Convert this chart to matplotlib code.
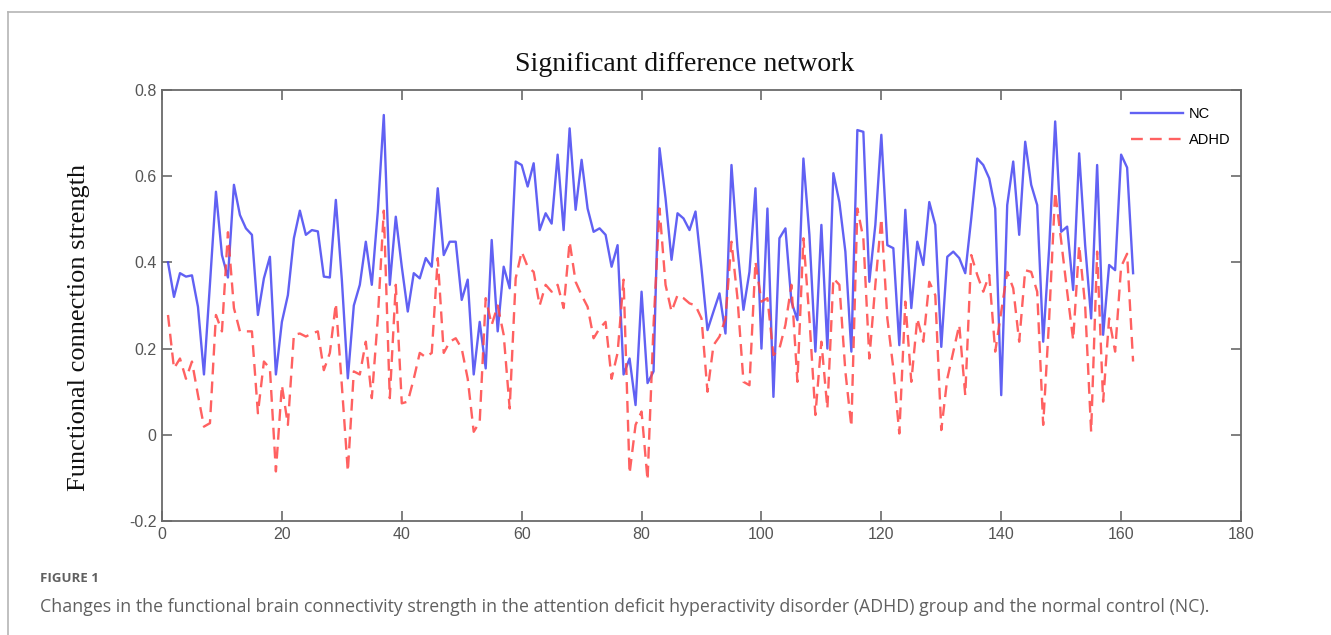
"""
Significant difference network: NC vs ADHD functional connection strength
"""

import numpy as np
import matplotlib.pyplot as plt
from matplotlib.lines import Line2D

plt.rcParams.update({"font.family": "sans-serif",
                     "font.sans-serif": ["Liberation Sans", "DejaVu Sans"]})

# connection index 1..162
nc = [
    0.40, 0.32, 0.375, 0.367, 0.37, 0.297, 0.14, 0.35, 0.564, 0.417,
    0.365, 0.58, 0.51, 0.479, 0.464, 0.278, 0.363, 0.413, 0.14, 0.262,
    0.324, 0.456, 0.52, 0.464, 0.475, 0.472, 0.367, 0.365, 0.545, 0.36,
    0.131, 0.30, 0.348, 0.448, 0.348, 0.518, 0.742, 0.348, 0.506, 0.39,
    0.286, 0.375, 0.363, 0.41, 0.39, 0.572, 0.417, 0.448, 0.448, 0.313,
    0.36, 0.14, 0.262, 0.154, 0.452, 0.24, 0.39, 0.34, 0.634, 0.626,
    0.576, 0.63, 0.475, 0.514, 0.49, 0.65, 0.475, 0.711, 0.522, 0.638,
    0.525, 0.471, 0.479, 0.464, 0.39, 0.44, 0.14, 0.177, 0.069, 0.332,
    0.12, 0.147, 0.665, 0.549, 0.406, 0.514, 0.502, 0.475, 0.518, 0.386,
    0.243, 0.286, 0.328, 0.235, 0.626, 0.433, 0.29, 0.378, 0.572, 0.20,
    0.525, 0.088, 0.456, 0.479, 0.309, 0.266, 0.641, 0.464, 0.193, 0.487,
    0.20, 0.607, 0.54, 0.425, 0.193, 0.707, 0.703, 0.355, 0.487, 0.696,
    0.44, 0.433, 0.208, 0.522, 0.294, 0.448, 0.394, 0.54, 0.487, 0.204,
    0.413, 0.425, 0.41, 0.375, 0.502, 0.641, 0.626, 0.595, 0.525, 0.092,
    0.533, 0.634, 0.464, 0.68, 0.58, 0.533, 0.216, 0.433, 0.727, 0.471,
    0.483, 0.336, 0.653, 0.44, 0.27, 0.626, 0.232, 0.394, 0.382, 0.65,
    0.62, 0.375,
]
adhd = [
    0.278, 0.154, 0.177, 0.13, 0.17, 0.092, 0.019, 0.027, 0.278, 0.24,
    0.47, 0.294, 0.24, 0.24, 0.24, 0.05, 0.17, 0.154, -0.085, 0.115,
    0.023, 0.232, 0.235, 0.228, 0.235, 0.24, 0.15, 0.19, 0.305, 0.115,
    -0.085, 0.147, 0.14, 0.216, 0.085, 0.27, 0.52, 0.085, 0.348, 0.073,
    0.077, 0.13, 0.19, 0.18, 0.19, 0.41, 0.19, 0.216, 0.224, 0.20,
    0.13, 0.007, 0.03, 0.317, 0.255, 0.30, 0.232, 0.061, 0.363, 0.425,
    0.39, 0.378, 0.30, 0.348, 0.332, 0.348, 0.294, 0.448, 0.355, 0.324,
    0.297, 0.224, 0.247, 0.262, 0.13, 0.19, 0.36, -0.09, 0.023, 0.054,
    -0.105, 0.255, 0.525, 0.348, 0.286, 0.324, 0.317, 0.305, 0.30, 0.27,
    0.10, 0.208, 0.228, 0.27, 0.448, 0.317, 0.123, 0.115, 0.402, 0.309,
    0.317, 0.185, 0.20, 0.255, 0.348, 0.123, 0.456, 0.27, 0.046, 0.216,
    0.061, 0.363, 0.348, 0.147, 0.019, 0.525, 0.456, 0.177, 0.348, 0.502,
    0.27, 0.154, 0.003, 0.309, 0.123, 0.27, 0.216, 0.355, 0.324, 0.011,
    0.13, 0.193, 0.255, 0.092, 0.417, 0.371, 0.332, 0.371, 0.193, 0.286,
    0.378, 0.34, 0.216, 0.382, 0.378, 0.332, 0.023, 0.27, 0.564, 0.45,
    0.332, 0.22, 0.44, 0.30, 0.007, 0.425, 0.077, 0.27, 0.193, 0.39,
    0.42, 0.17,
]
x_ticks = [0, 20, 40, 60, 80, 100, 120, 140, 160, 180]
y_ticks = [-0.2, 0, 0.2, 0.4, 0.6, 0.8]
y_labels = ["-0.2", "0", "0.2", "0.4", "0.6", "0.8"]

BLUE = "#4545f2"
RED = "#ff4545"
FRAME = "#6a6a6a"
TICKTXT = "#555555"


def main():
    fig = plt.figure(figsize=(13.31, 6.35), dpi=100)

    # page border (top + left only, like the article layout)
    fig.add_artist(Line2D([8 / 1331, 8 / 1331], [0, 1 - 12 / 635],
                          transform=fig.transFigure, color="#b5b5b5", lw=1.2))
    fig.add_artist(Line2D([8 / 1331, 1], [1 - 12 / 635, 1 - 12 / 635],
                          transform=fig.transFigure, color="#b5b5b5", lw=1.2))

    ax = fig.add_axes([162 / 1331, 1 - 521 / 635, 1079 / 1331, 431 / 635])
    idx = np.arange(1, len(nc) + 1)
    ax.plot(idx, nc, color=BLUE, lw=1.7, alpha=0.85, label="NC")
    ax.plot(idx, adhd, color=RED, lw=1.7, ls=(0, (5, 3)), alpha=0.85,
            label="ADHD")

    ax.set_xlim(0, 180)
    ax.set_ylim(-0.2, 0.8)
    ax.set_xticks(x_ticks)
    ax.set_yticks(y_ticks)
    ax.set_yticklabels(y_labels)
    ax.tick_params(direction="in", top=True, right=True, length=7,
                   width=1.2, color=FRAME, labelcolor=TICKTXT,
                   labelsize=11.5, pad=4)
    for s in ax.spines.values():
        s.set_color(FRAME)
        s.set_linewidth(1.3)

    ax.set_title("Significant difference network", fontsize=20,
                 family="Liberation Serif", color="#111111", pad=14,
                 x=(685 - 162) / 1079)
    ax.set_ylabel("Functional connection strength", fontsize=19,
                  family="Liberation Serif", color="#111111")
    ax.yaxis.set_label_coords((90 - 162) / 1079, (521 - 327) / 431)

    ax.legend(loc="upper right", bbox_to_anchor=(1.0, 0.985), frameon=False,
              fontsize=10.5, handlelength=3.6, handletextpad=0.4,
              labelspacing=0.85, borderaxespad=0.3)

    fig.text(40 / 1331, 1 - 578 / 635, "FIGURE 1", fontsize=9.5,
             family="Open Sans", weight="bold", color="#606060",
             va="center")
    fig.text(40 / 1331, 1 - 607 / 635,
             "Changes in the functional brain connectivity strength in the "
             "attention deficit hyperactivity disorder (ADHD) group and the "
             "normal control (NC).",
             fontsize=12.8, family="Open Sans", color="#606060", va="center")

    fig.savefig("out.png", dpi=100)


if __name__ == "__main__":
    main()
